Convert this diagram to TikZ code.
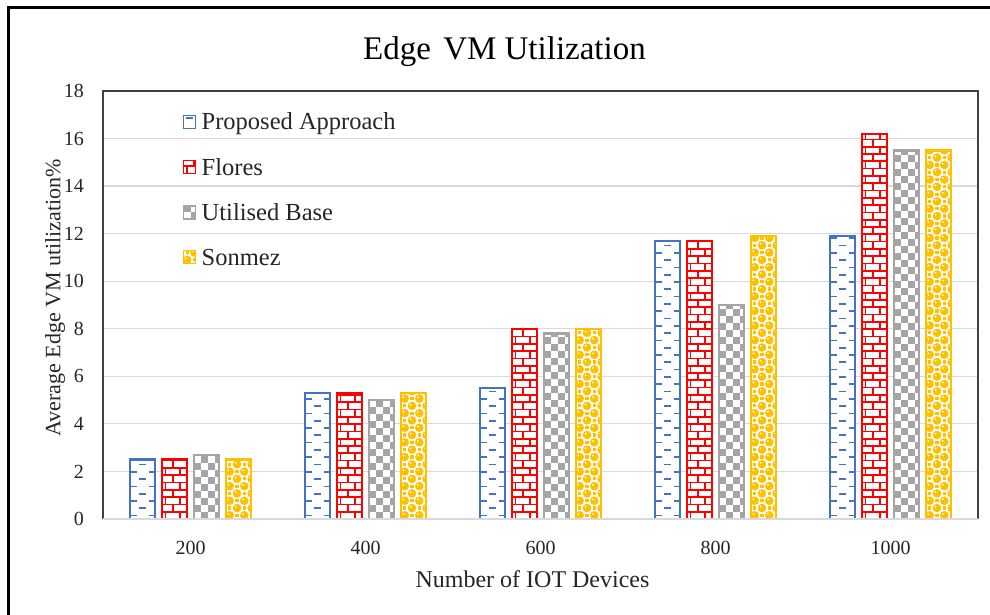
\documentclass[tikz,border=0pt]{standalone}
\usepackage{fontspec}
\setmainfont{Liberation Serif}
\definecolor{cblue}{HTML}{4472C4}
\definecolor{cred}{HTML}{FF0000}
\definecolor{cgray}{HTML}{A5A5A5}
\definecolor{cgold}{HTML}{FFC000}
\definecolor{gridc}{HTML}{D9D9D9}
\definecolor{txt}{HTML}{262626}

% ---- fill patterns (args: left, top, right, bottom; y grows downwards) ----
\newcommand\patDash[4]{%
  \fill[white] (#1,#2) rectangle (#3,#4);
  \pgfmathsetmacro\bc{(#1+#3)/2}%
  \pgfmathtruncatemacro\nr{(#4-#2)/7.3+1}%
  \foreach \j in {0,...,\nr}{%
    \pgfmathsetmacro\yy{#4-3.4-\j*7.3}%
    \ifodd\j
      \draw[cblue,line width=1.7] (\bc-3.8,\yy) -- (\bc+3.8,\yy);
    \else
      \draw[cblue,line width=1.7] (\bc-13.4,\yy) -- (\bc-6,\yy) (\bc+6,\yy) -- (\bc+13.4,\yy);
    \fi
  }}
\newcommand\patBrick[4]{%
  \fill[white] (#1,#2) rectangle (#3,#4);
  \pgfmathtruncatemacro\nr{(#4-#2)/7.3+1}%
  \foreach \j in {0,...,\nr}{%
    \pgfmathsetmacro\yy{#4-\j*7.3}%
    \pgfmathsetmacro\off{mod(\j,2)*7.3}%
    \draw[cred,line width=1.7] (#1,\yy) -- (#3,\yy);
    \foreach \m in {-1,0,1,2}{%
      \draw[cred,line width=1.7] ({#1+3.5+\off+\m*14.6},\yy) -- ++(0,-7.3);
    }
  }}
\newcommand\patChk[4]{%
  \fill[white] (#1,#2) rectangle (#3,#4);
  \pgfmathtruncatemacro\nr{(#4-#2)/7+1}%
  \foreach \j in {0,...,\nr}{%
    \foreach \i in {0,...,3}{%
      \pgfmathtruncatemacro\pp{mod(\i+\j,2)}%
      \ifnum\pp=1 \fill[cgray] ({#1+\i*7},{#4-\j*7}) rectangle ++(7,-7);\fi
    }
  }}
\newcommand\patSph[4]{%
  \fill[white] (#1,#2) rectangle (#3,#4);
  \pgfmathtruncatemacro\nr{(#4-#2)/7.3+1}%
  \foreach \j in {0,...,\nr}{%
    \foreach \i in {0,...,3}{%
      \pgfmathtruncatemacro\pp{mod(\i+\j,2)}%
      \pgfmathsetmacro\xc{#1+(\i+0.5)*7.3}%
      \pgfmathsetmacro\yc{#4-(\j+0.5)*7.3}%
      \ifnum\pp=0
        \fill[cgold] (\xc,\yc) circle (4.3);
        \fill[white] (\xc-1.4,\yc-1.4) circle (1.0);
      \else
        \fill[cgold] (\xc-1.6,\yc-1.6) rectangle (\xc+1.6,\yc+1.6);
      \fi
    }
  }}

% ---- one patterned box: pattern, colour, left, top, right, bottom, outline width ----
\newcommand\pbox[7]{%
  \begin{scope}
    \clip (#3,#4) rectangle (#5,#6);
    \csname pat#1\endcsname{#3}{#4}{#5}{#6}%
  \end{scope}
  \draw[#2,line width=#7] (#3,#4) rectangle (#5,#6);
}

% ---- one bar: pattern, colour, group centre, series index, value ----
\newcommand\vbar[5]{%
  \pgfmathsetmacro\bl{#3+(#4-1.5)*32-12.45}%
  \pgfmathsetmacro\br{\bl+24.9}%
  \pgfmathsetmacro\bt{519-#5*23.78}%
  \pbox{#1}{#2}{\bl}{\bt}{\br}{519}{2.4}%
}

\begin{document}
\begin{tikzpicture}[x=1pt,y=-1pt,
  gridline/.style={gridc,line width=1.2},
  ticklab/.style={text=txt,font=\fontsize{20}{22}\selectfont,inner sep=0},
  axlab/.style={text=txt,font=\fontsize{24}{27}\selectfont,inner sep=0},
  legtext/.style={text=txt,font=\fontsize{24.5}{27}\selectfont,inner sep=0}]
\useasboundingbox (0,0) rectangle (990,615);
\clip (0,0) rectangle (990,615);
\fill[white] (0,0) rectangle (990,615);

% outer frame
\draw[black,line width=3] (8.5,7.5) rectangle (1010,640);

% gridlines and value labels
\foreach \v in {2,4,...,18}
  \draw[gridline] (103,{519-\v*23.78}) -- (978,{519-\v*23.78});
\foreach \v in {0,2,...,18}
  \node[ticklab,anchor=east] (yt\v) at (84,{519-\v*23.78}) {\v};

% bars
\foreach \g/\a/\b/\c/\d in {0/2.5/2.5/2.7/2.5, 1/5.3/5.3/5.0/5.3,
    2/5.5/8.0/7.8/8.0, 3/11.7/11.7/9.0/11.9, 4/11.9/16.2/15.5/15.5}{
  \pgfmathsetmacro\cx{190.5+175*\g}
  \vbar{Dash}{cblue}{\cx}{0}{\a}
  \vbar{Brick}{cred}{\cx}{1}{\b}
  \vbar{Chk}{cgray}{\cx}{2}{\c}
  \vbar{Sph}{cgold}{\cx}{3}{\d}
}

% plot area border and category axis
\draw[black!75,line width=1.3] (103,519) -- (103,91) -- (978,91) -- (978,519);
\draw[gridc,line width=1.5] (103,519) -- (978,519);

% category labels
\foreach \g/\t in {0/200,1/400,2/600,3/800,4/1000}
  \node[ticklab,anchor=base] (xt\g) at ({190.5+175*\g},554) {\t};

% titles
\node[text=black,font=\fontsize{33}{36}\selectfont,inner sep=0,anchor=base] (title)
  at (504.5,59.3) {Edge\hspace{4pt} VM Utilization};
\node[axlab,anchor=base] (xlab) at (532.5,587) {Number of IOT Devices};
\node[axlab,rotate=90,font=\fontsize{22}{25}\selectfont] (ylab) at (55,298) {Average Edge VM utilization\%};

% legend
\pbox{Dash}{cblue}{183.5}{115.5}{195.5}{128.5}{1.6}
\pbox{Brick}{cred}{183.5}{160.5}{195.5}{173.5}{1.6}
\pbox{Chk}{cgray}{183.5}{206}{195.5}{219}{1.6}
\pbox{Sph}{cgold}{183.5}{250.5}{195.5}{263.5}{1.6}
\node[legtext,anchor=base west] (lg1) at (201.5,130) {Proposed Approach};
\node[legtext,anchor=base west] (lg2) at (201.5,175) {Flores};
\node[legtext,anchor=base west] (lg3) at (201.5,220.5) {Utilised Base};
\node[legtext,anchor=base west] (lg4) at (201.5,265) {Sonmez};
\end{tikzpicture}
\end{document}
